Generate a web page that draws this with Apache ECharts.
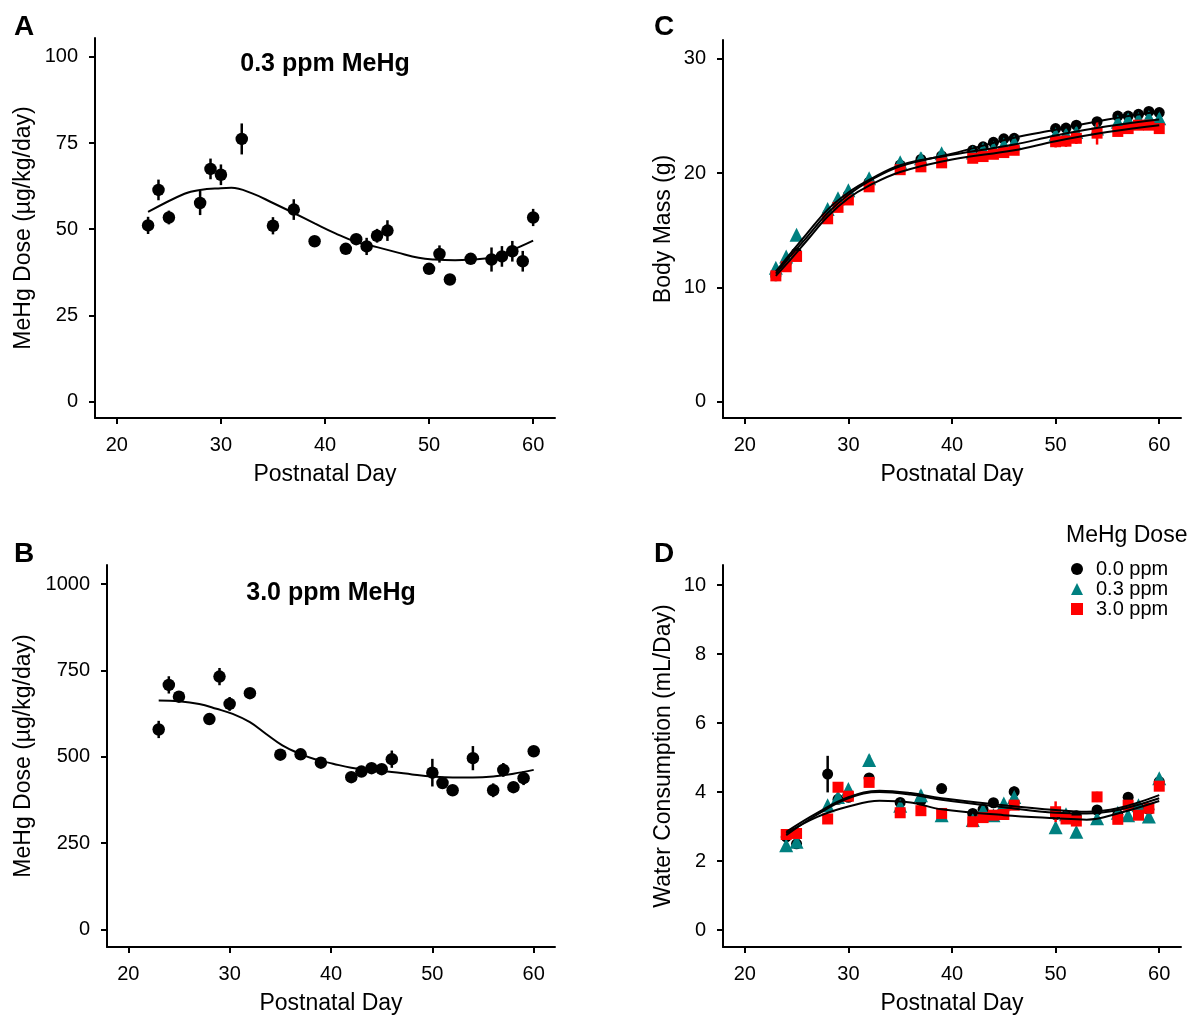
<!DOCTYPE html>
<html>
<head>
<meta charset="utf-8">
<title>MeHg dose, body mass and water consumption</title>
<script src="https://cdn.jsdelivr.net/npm/echarts@6/dist/echarts.min.js"></script>
<style>
  html, body { margin: 0; padding: 0; background: #fff; }
  #chart { width: 1195px; height: 1017px; }
</style>
</head>
<body>
<div id="chart"></div>
<script>
// postnatal days with measurements
const days = [23, 24, 25, 28, 29, 30, 32, 35, 37, 39, 42, 43, 44, 45, 46, 50, 51, 52, 54, 56, 57, 58, 59, 60];
const waterDays = [24, 25, 28, 29, 30, 32, 35, 37, 39, 42, 43, 44, 45, 46, 50, 51, 52, 54, 56, 57, 58, 59, 60];
const xTicks = [20, 30, 40, 50, 60];

// A - MeHg dose, 0.3 ppm group (ug/kg/day)
const dose03 = [51.1, 61.4, 53.4, 57.6, 67.5, 65.8, 76.2, 51.0, 55.7, 46.5, 44.3, 47.1, 45.0, 48.1, 49.6, 38.5, 42.8, 35.4, 41.4, 41.2, 42.1, 43.6, 40.7, 53.4];
const dose03Err = [2.5, 3, 2, 3.5, 3, 3, 4.5, 2.5, 3, 1.5, 1.5, 1.5, 2.5, 2, 3, 1.5, 2.5, 1.5, 1.5, 3.5, 3, 3, 3, 2.5];
const fit03Days = [23, 26.5, 28, 30, 31, 33, 35, 37, 39, 41, 43, 45, 47, 49, 50.5, 52.5, 54, 56, 58, 60];
const fit03 = [55.0, 60.3, 61.4, 61.9, 62.0, 60.4, 57.6, 54.7, 51.7, 48.8, 46.3, 44.8, 43.2, 41.7, 41.2, 41.0, 41.2, 41.8, 44.0, 46.7];
const doseTicksA = [0, 25, 50, 75, 100];

// B - MeHg dose, 3.0 ppm group (ug/kg/day)
const dose30 = [579, 708, 674, 609, 732, 653, 684, 506, 507, 483, 441, 457, 467, 464, 493, 454, 424, 403, 496, 403, 462, 412, 438, 516];
const dose30Err = [25, 25, 12, 12, 25, 20, 12, 12, 12, 12, 12, 15, 15, 15, 25, 40, 15, 10, 35, 20, 20, 12, 20, 12];
const fit30Days = [23, 25, 27, 28.7, 30.3, 32, 33.6, 35.2, 36.9, 38.5, 40.2, 42, 44, 46, 48, 50, 52, 54, 56, 58, 60];
const fit30 = [663, 661, 653, 639, 624, 600, 566, 533, 509, 492, 480, 468, 460, 456, 449, 443, 440, 440, 443, 451, 462];
const doseTicksB = [0, 250, 500, 750, 1000];

// C - body mass (g)
const massCtl = [11.0, 12.1, 13.0, 16.4, 17.3, 18.1, 19.2, 20.7, 21.2, 21.5, 22.0, 22.3, 22.7, 23.0, 23.05, 23.9, 23.95, 24.2, 24.5, 25.0, 25.0, 25.15, 25.4, 25.3];
const massLow = [11.7, 12.7, 14.6, 16.85, 17.8, 18.5, 19.55, 20.95, 21.3, 21.75, 21.8, 22.1, 22.2, 22.5, 22.7, 23.4, 23.4, 23.6, 23.9, 24.5, 24.7, 24.75, 24.9, 24.8];
const massHigh = [11.0, 11.8, 12.7, 16.0, 17.0, 17.65, 18.8, 20.3, 20.55, 20.9, 21.3, 21.45, 21.65, 21.8, 22.0, 22.75, 22.8, 23.05, 23.5, 23.65, 23.9, 24.2, 24.2, 23.9];
const massCtlErr = [0.2, 0.2, 0.2, 0.25, 0.25, 0.25, 0.3, 0.3, 0.3, 0.3, 0.3, 0.3, 0.3, 0.3, 0.3, 0.3, 0.3, 0.3, 0.3, 0.3, 0.3, 0.3, 0.3, 0.3];
const massLowErr = [0.2, 0.2, 0.3, 0.3, 0.3, 0.3, 0.3, 0.3, 0.5, 0.3, 0.4, 0.4, 0.4, 0.4, 0.4, 0.4, 0.4, 0.4, 0.4, 0.4, 0.4, 0.4, 0.4, 0.4];
const massHighErr = [0.3, 0.3, 0.3, 0.4, 0.4, 0.4, 0.4, 0.4, 0.4, 0.4, 0.4, 0.4, 0.4, 0.4, 0.4, 0.5, 0.5, 0.5, 1.0, 0.4, 0.4, 0.4, 0.4, 0.4];
const fitMassDays = [23, 24, 26, 28, 30, 32, 35, 40, 46, 50, 55, 60];
const fitMassCtl = [11.2, 12.3, 14.4, 16.5, 18.1, 19.3, 20.6, 21.7, 23.1, 23.8, 24.7, 25.4];
const fitMassLow = [11.4, 12.5, 14.7, 16.8, 18.3, 19.4, 20.7, 21.6, 22.5, 23.3, 24.1, 24.7];
const fitMassHigh = [11.0, 12.0, 14.1, 16.2, 17.8, 18.9, 20.1, 21.2, 22.0, 22.8, 23.6, 24.2];
const massTicks = [0, 10, 20, 30];

// D - water consumption (mL/day)
const waterCtl = [2.7, 2.5, 4.52, 3.79, 3.85, 4.41, 3.70, 3.75, 4.1, 3.38, 3.5, 3.69, 3.45, 4.01, 3.35, 3.31, 3.31, 3.48, 3.35, 3.85, 3.55, 3.5, 4.3];
const waterLow = [2.46, 2.56, 3.62, 3.86, 4.09, 4.93, 3.6, 3.91, 3.33, 3.19, 3.48, 3.33, 3.67, 3.86, 2.98, 3.36, 2.85, 3.24, 3.4, 3.33, 3.62, 3.29, 4.4];
const waterHigh = [2.77, 2.8, 3.22, 4.14, 3.88, 4.28, 3.4, 3.46, 3.38, 3.14, 3.26, 3.33, 3.35, 3.62, 3.43, 3.22, 3.16, 3.86, 3.21, 3.62, 3.33, 3.53, 4.17];
const waterCtlErr = [0.1, 0.1, 0.53, 0.12, 0.1, 0.12, 0.1, 0.1, 0.1, 0.1, 0.1, 0.1, 0.1, 0.15, 0.1, 0.1, 0.1, 0.1, 0.1, 0.15, 0.1, 0.1, 0.1];
const waterLowErr = [0.1, 0.1, 0.12, 0.12, 0.12, 0.15, 0.1, 0.15, 0.1, 0.1, 0.1, 0.1, 0.12, 0.12, 0.1, 0.1, 0.1, 0.1, 0.1, 0.1, 0.12, 0.12, 0.1];
const waterHighErr = [0.1, 0.1, 0.1, 0.1, 0.1, 0.1, 0.1, 0.1, 0.1, 0.1, 0.1, 0.1, 0.1, 0.1, 0.3, 0.1, 0.1, 0.15, 0.1, 0.1, 0.1, 0.1, 0.1];
const fitWaterDays = [24, 27, 30, 33, 36, 39, 45, 50, 53, 56, 60];
const fitWaterCtl = [2.85, 3.4, 3.85, 4.04, 3.97, 3.82, 3.62, 3.48, 3.43, 3.53, 3.91];
const fitWaterLow = [2.75, 3.35, 3.82, 4.0, 3.93, 3.78, 3.56, 3.4, 3.38, 3.48, 3.82];
const fitWaterHigh = [2.8, 3.28, 3.58, 3.75, 3.7, 3.5, 3.33, 3.24, 3.2, 3.38, 3.74];
const waterTicks = [0, 2, 4, 6, 8, 10];

const groups = ['0.0 ppm', '0.3 ppm', '3.0 ppm'];
const BLACK = '#000000', TEAL = '#008080', RED = '#ff0000';
const FONT = 'Liberation Sans, Arial, sans-serif';

function pairs(xs, ys) {
  return xs.map((x, i) => [x, ys[i]]);
}
function ranges(xs, ys, es) {
  return xs.map((x, i) => [x, ys[i] - es[i], ys[i] + es[i]]);
}

function errorBars(idx, data, color, z) {
  return {
    type: 'custom',
    xAxisIndex: idx, yAxisIndex: idx,
    data: data, z: z, silent: true,
    encode: { x: 0, y: [1, 2] },
    renderItem: function(params, api) {
      const lo = api.coord([api.value(0), api.value(1)]);
      const hi = api.coord([api.value(0), api.value(2)]);
      return {
        type: 'line',
        shape: { x1: lo[0], y1: lo[1], x2: hi[0], y2: hi[1] },
        style: { stroke: color, lineWidth: 2.5 }
      };
    }
  };
}

function points(idx, name, data, color, symbol, size, z) {
  return {
    name: name, type: 'scatter',
    xAxisIndex: idx, yAxisIndex: idx,
    data: data, symbol: symbol, symbolSize: size, z: z,
    itemStyle: { color: color, opacity: 1 }
  };
}

function fitLine(idx, data) {
  return {
    type: 'line', xAxisIndex: idx, yAxisIndex: idx,
    data: data, smooth: 0.4, showSymbol: false, silent: true, z: 10,
    lineStyle: { color: BLACK, width: 2 }
  };
}

function xAxis(idx) {
  return {
    type: 'value', gridIndex: idx, min: 17.9, max: 62.1,
    name: 'Postnatal Day', nameLocation: 'middle', nameGap: 45,
    nameTextStyle: { fontSize: 23, color: BLACK, fontFamily: FONT },
    axisLine: { onZero: false, lineStyle: { color: BLACK, width: 2 } },
    axisTick: { length: 6, lineStyle: { width: 2, color: BLACK }, customValues: xTicks },
    axisLabel: { fontSize: 20, color: BLACK, fontFamily: FONT, margin: 17, customValues: xTicks },
    splitLine: { show: false }
  };
}

function yAxis(idx, name, min, max, ticks, gap) {
  return {
    type: 'value', gridIndex: idx, min: min, max: max,
    name: name, nameLocation: 'middle', nameGap: gap, nameRotate: 90,
    nameTextStyle: { fontSize: 23, color: BLACK, fontFamily: FONT },
    axisLine: { show: true, onZero: false, lineStyle: { color: BLACK, width: 2 } },
    axisTick: { show: true, length: 6, lineStyle: { width: 2, color: BLACK }, customValues: ticks },
    axisLabel: {
      fontSize: 20, color: BLACK, fontFamily: FONT, margin: 17, customValues: ticks,
      formatter: v => String(v)
    },
    splitLine: { show: false }
  };
}

const chart = echarts.init(document.getElementById('chart'));

const titleStyle = { fontFamily: FONT, fontWeight: 'bold', color: BLACK };

const option = {
  animation: false,
  backgroundColor: '#ffffff',
  title: [
    { text: 'A', left: 14, top: 13, padding: 0, textStyle: Object.assign({ fontSize: 28 }, titleStyle) },
    { text: 'B', left: 14, top: 540, padding: 0, textStyle: Object.assign({ fontSize: 28 }, titleStyle) },
    { text: 'C', left: 654, top: 13, padding: 0, textStyle: Object.assign({ fontSize: 28 }, titleStyle) },
    { text: 'D', left: 654, top: 540, padding: 0, textStyle: Object.assign({ fontSize: 28 }, titleStyle) },
    { text: '0.3 ppm MeHg', left: 325, textAlign: 'center', top: 52, padding: 0, textStyle: Object.assign({ fontSize: 25 }, titleStyle) },
    { text: '3.0 ppm MeHg', left: 331, textAlign: 'center', top: 581, padding: 0, textStyle: Object.assign({ fontSize: 25 }, titleStyle) },
    { text: 'MeHg Dose', left: 1066, top: 524, padding: 0, textStyle: { fontFamily: FONT, fontWeight: 'normal', fontSize: 23, color: BLACK } }
  ],
  legend: {
    data: groups, orient: 'vertical', left: 1071, top: 559, padding: 0,
    itemWidth: 12, itemHeight: 12, itemGap: 0, selectedMode: false,
    textStyle: { fontSize: 20, color: BLACK, fontFamily: FONT, padding: [0, 0, 0, 8] }
  },
  grid: [
    { left: 95, top: 38, width: 460, height: 380 },
    { left: 107, top: 565, width: 448, height: 382 },
    { left: 723, top: 40, width: 458, height: 378 },
    { left: 723, top: 565, width: 458, height: 382 }
  ],
  xAxis: [xAxis(0), xAxis(1), xAxis(2), xAxis(3)],
  yAxis: [
    yAxis(0, 'MeHg Dose (µg/kg/day)', -4.8, 105.5, doseTicksA, 60),
    yAxis(1, 'MeHg Dose (µg/kg/day)', -50.6, 1055, doseTicksB, 72),
    yAxis(2, 'Body Mass (g)', -1.45, 31.66, massTicks, 48),
    yAxis(3, 'Water Consumption (mL/Day)', -0.49, 10.58, waterTicks, 48)
  ],
  series: [
    // A
    errorBars(0, ranges(days, dose03, dose03Err), BLACK, 2),
    points(0, 'dose03', pairs(days, dose03), BLACK, 'circle', 12.5, 3),
    fitLine(0, pairs(fit03Days, fit03)),
    // B
    errorBars(1, ranges(days, dose30, dose30Err), BLACK, 2),
    points(1, 'dose30', pairs(days, dose30), BLACK, 'circle', 12.5, 3),
    fitLine(1, pairs(fit30Days, fit30)),
    // C
    errorBars(2, ranges(days, massCtl, massCtlErr), BLACK, 2),
    points(2, groups[0], pairs(days, massCtl), BLACK, 'circle', 11, 3),
    errorBars(2, ranges(days, massLow, massLowErr), TEAL, 4),
    points(2, groups[1], pairs(days, massLow), TEAL, 'triangle', 14, 5),
    errorBars(2, ranges(days, massHigh, massHighErr), RED, 6),
    points(2, groups[2], pairs(days, massHigh), RED, 'rect', 11, 7),
    fitLine(2, pairs(fitMassDays, fitMassCtl)),
    fitLine(2, pairs(fitMassDays, fitMassLow)),
    fitLine(2, pairs(fitMassDays, fitMassHigh)),
    // D
    errorBars(3, ranges(waterDays, waterCtl, waterCtlErr), BLACK, 2),
    points(3, groups[0], pairs(waterDays, waterCtl), BLACK, 'circle', 11, 3),
    errorBars(3, ranges(waterDays, waterLow, waterLowErr), TEAL, 4),
    points(3, groups[1], pairs(waterDays, waterLow), TEAL, 'triangle', 14, 5),
    errorBars(3, ranges(waterDays, waterHigh, waterHighErr), RED, 6),
    points(3, groups[2], pairs(waterDays, waterHigh), RED, 'rect', 11, 7),
    fitLine(3, pairs(fitWaterDays, fitWaterCtl)),
    fitLine(3, pairs(fitWaterDays, fitWaterLow)),
    fitLine(3, pairs(fitWaterDays, fitWaterHigh))
  ]
};

chart.setOption(option);
</script>
</body>
</html>
